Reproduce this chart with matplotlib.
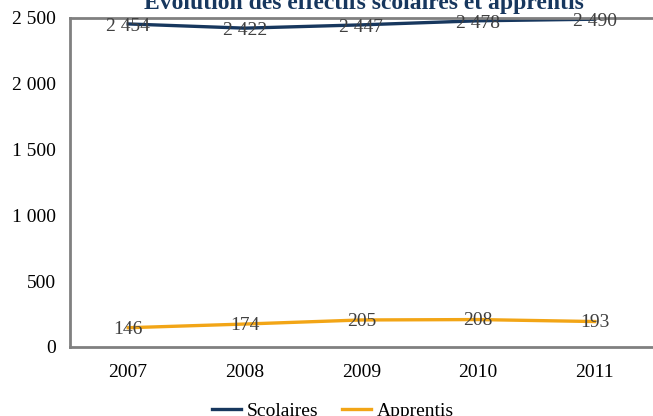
import matplotlib.pyplot as plt

years = ['2007', '2008', '2009', '2010', '2011']
scolaires = [2454, 2422, 2447, 2478, 2490]
apprentis = [146, 174, 205, 208, 193]
yticks = [0, 500, 1000, 1500, 2000, 2500]
ytick_labels = ['0', '500', '1\u00a0000', '1\u00a0500', '2\u00a0000', '2\u00a0500']

plt.rcParams['font.family'] = ['Liberation Serif', 'DejaVu Serif']

fig = plt.figure(figsize=(6.53, 4.16), dpi=100)
ax = fig.add_axes([0.107, 0.166, 0.893, 0.791])

x = list(range(len(years)))
navy = '#17375E'
orange = '#F2A516'
ax.plot(x, scolaires, color=navy, lw=2.4, label='Scolaires')
ax.plot(x, apprentis, color=orange, lw=2.4, label='Apprentis')

def fmt(v):
    return f'{v:,}'.replace(',', '\u00a0')

# data labels sit on the points, slightly below
for xi, v in zip(x, scolaires):
    ax.text(xi, v - 20, fmt(v), ha='center', va='center', fontsize=14, color='#404040')
for xi, v in zip(x, apprentis):
    ax.text(xi, v - 10, fmt(v), ha='center', va='center', fontsize=14, color='#404040')

ax.set_xlim(-0.5, 4.5)
ax.set_ylim(0, 2500)
ax.set_xticks(x)
ax.set_xticklabels(years, fontsize=14)
ax.set_yticks(yticks)
ax.set_yticklabels(ytick_labels, fontsize=14)
ax.tick_params(length=0)
ax.tick_params(axis='x', pad=12)
ax.tick_params(axis='y', pad=10)

for side in ['left', 'bottom', 'top']:
    ax.spines[side].set_color('#808080')
    ax.spines[side].set_linewidth(2)
ax.spines['right'].set_visible(False)

fig.text(0.557, 0.997, 'Évolution des effectifs scolaires et apprentis', ha='center', va='center',
         fontsize=17, fontweight='bold', color=navy)

fig.legend(loc='center', bbox_to_anchor=(0.51, 0.012), ncol=2, frameon=False, fontsize=14,
           handlelength=1.5, columnspacing=1.2, handletextpad=0.3)

fig.savefig('out.png', dpi=100)
